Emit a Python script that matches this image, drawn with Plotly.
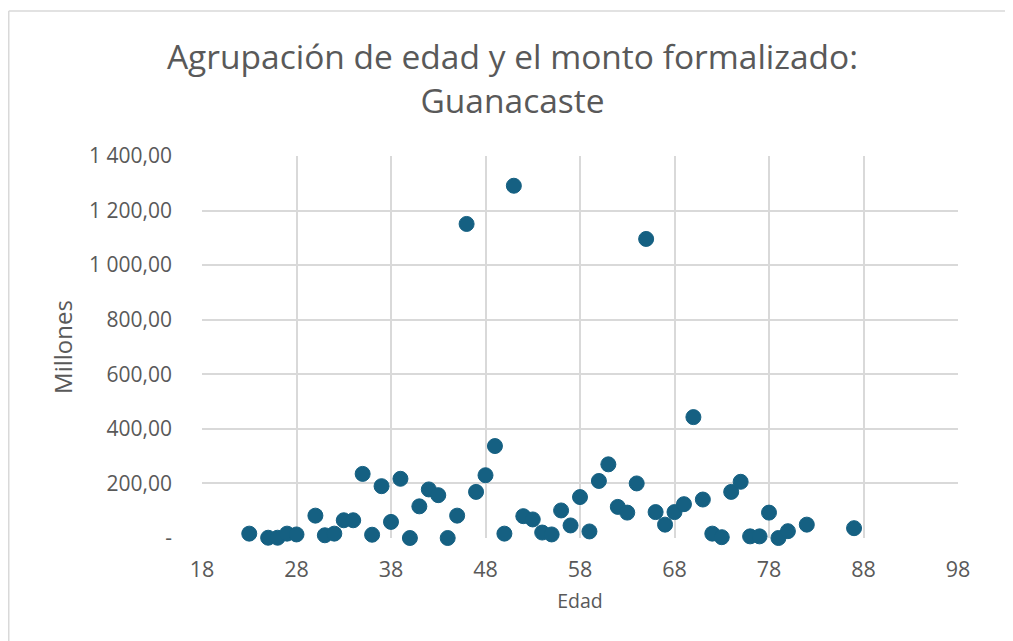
import plotly.graph_objects as go

edad = [23, 25, 26, 27, 28, 30, 31, 32, 33, 34, 35, 36, 37, 38, 39, 40, 41, 42, 43, 44, 45, 46,
        47, 48, 49, 50, 51, 52, 53, 54, 55, 56, 57, 58, 59, 60, 61, 62, 63, 64, 65, 66, 67, 68,
        69, 70, 71, 72, 73, 74, 75, 76, 77, 78, 79, 80, 82, 87]
monto = [16, 1, 1, 16, 13, 82, 10, 16, 65, 65, 235, 12, 190, 59, 217, 0, 116, 178, 157, 0, 82, 1151,
         169, 230, 337, 16, 1291, 80, 68, 20, 13, 101, 46, 150, 24, 209, 270, 114, 93, 200, 1096, 95, 49, 95,
         124, 443, 141, 16, 3, 169, 206, 6, 6, 93, 0, 25, 49, 36]

y_ticks = [0, 200, 400, 600, 800, 1000, 1200, 1400]
y_labels = ["-", "200,00", "400,00", "600,00", "800,00", "1 000,00", "1 200,00", "1 400,00"]
x_ticks = [18, 28, 38, 48, 58, 68, 78, 88, 98]

W, H = 1013, 641
L, R, T, B = 194, 63, 148, 111

TXT = "#595959"
GRID = "#d9d9d9"
FONT = "Open Sans, Liberation Sans, sans-serif"

fig = go.Figure()
fig.add_trace(go.Scatter(
    x=edad, y=monto, mode="markers",
    marker=dict(size=15, color="#156082", line=dict(width=1, color="#156082")),
    cliponaxis=False, showlegend=False,
))

pw = W - L - R
ph = H - T - B

def px_x(v):
    return (v - L) / pw

def px_y(v):
    return (H - B - v) / ph

fig.update_layout(
    width=W, height=H,
    margin=dict(l=L, r=R, t=T, b=B, autoexpand=False),
    paper_bgcolor="white", plot_bgcolor="white",
    font=dict(family=FONT, color=TXT),
    title=dict(
        text="Agrupación de edad y el monto formalizado:<br>Guanacaste",
        x=(504.5 - L) / pw, xanchor="center", xref="paper",
        y=1 - 61 / H, yanchor="middle", yref="container",
        font=dict(size=33.5, color=TXT, family=FONT),
    ),
    xaxis=dict(
        range=[18, 98], tickvals=x_ticks, showgrid=True, gridcolor=GRID, gridwidth=1.5,
        zeroline=False, showline=False, ticks="",
        tickfont=dict(size=21.5, color=TXT), ticklabelstandoff=16,
        title=dict(text="Edad", font=dict(size=19.5, color=TXT), standoff=12),
    ),
    yaxis=dict(
        range=[0, 1400], tickvals=y_ticks, ticktext=y_labels, showgrid=True,
        gridcolor=GRID, gridwidth=1.5, zeroline=False, showline=False, ticks="",
        tickfont=dict(size=21, color=TXT), ticklabelstandoff=29,
        title=dict(text="Millones", font=dict(size=24, color=TXT), standoff=9),
    ),
    shapes=[
        dict(type="line", xref="paper", yref="paper",
             x0=px_x(0.75), x1=px_x(0.75), y0=px_y(3), y1=px_y(700),
             line=dict(color="#d9d9d9", width=1.5), layer="below"),
        dict(type="line", xref="paper", yref="paper",
             x0=px_x(0.75), x1=px_x(1013), y0=px_y(3), y1=px_y(3),
             line=dict(color="#d9d9d9", width=1.5), layer="below"),
    ],
)

fig.write_html("out.html")
